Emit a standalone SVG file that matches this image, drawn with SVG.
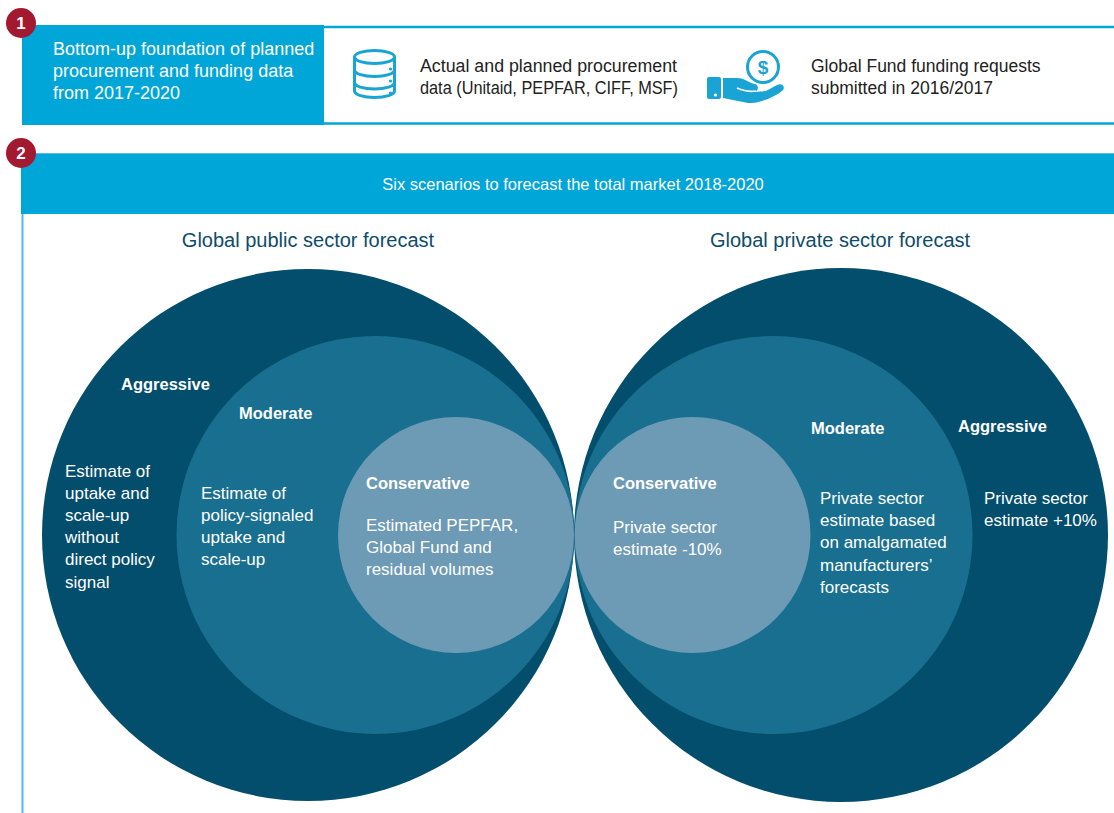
<svg xmlns="http://www.w3.org/2000/svg" width="1114" height="813" viewBox="0 0 1114 813">
<style>
text{font-family:"Liberation Sans",Arial,sans-serif}
.w{fill:#ffffff;font-size:17px}
.wb{fill:#ffffff;font-size:16.5px;font-weight:bold}
.d{fill:#222222;font-size:17.5px}
.ttl{fill:#0E4C6B;font-size:20px}
.badge{fill:#A3192F}
.bn{fill:#ffffff;font-size:17px;font-weight:bold}
.ic{fill:none;stroke:#1AA3D5;stroke-width:3}
.outer{fill:#034D6D}
.mid{fill:#186F8F}
.inner{fill:#6D9AB4}
</style>
<rect width="1114" height="813" fill="#ffffff"/>

<g id="section1">
  <rect x="22" y="25" width="302" height="100" fill="#00A6D8"/>
  <line x1="323" y1="27" x2="1114" y2="27" stroke="#00A6D8" stroke-width="2.5"/>
  <line x1="323" y1="123.5" x2="1114" y2="123.5" stroke="#00A6D8" stroke-width="2.5"/>
  <text class="w" style="font-size:18px"><tspan x="53" y="55">Bottom-up foundation of planned</tspan><tspan x="53" y="77">procurement and funding data</tspan><tspan x="53" y="99">from 2017-2020</tspan></text>
  <circle class="badge" cx="21" cy="23" r="15"/>
  <text class="bn" x="21" y="29" text-anchor="middle">1</text>
</g>

<g id="data-icon">
  <ellipse class="ic" cx="374.5" cy="57" rx="20" ry="6.5"/>
  <path class="ic" d="M354.5 57 V91 A20 6.5 0 0 0 394.5 91 V57"/>
  <path class="ic" d="M354.5 70 A20 6.5 0 0 0 394.5 70 M354.5 82.5 A20 6.5 0 0 0 394.5 82.5"/>
  <circle cx="390.5" cy="69" r="1.6" fill="#1AA3D5"/>
  <circle cx="390.5" cy="81" r="1.6" fill="#1AA3D5"/>
  <circle cx="390.5" cy="93" r="1.6" fill="#1AA3D5"/>
  <text class="d" x="420" y="72" textLength="257" lengthAdjust="spacingAndGlyphs">Actual and planned procurement</text>
  <text class="d" x="420" y="94" textLength="258" lengthAdjust="spacingAndGlyphs">data (Unitaid, PEPFAR, CIFF, MSF)</text>
</g>

<g id="funding-icon">
  <circle cx="763" cy="67" r="15.5" fill="none" stroke="#1AA3D5" stroke-width="3"/>
  <text x="763" y="74" text-anchor="middle" style="font-size:19px;font-weight:bold;fill:#1AA3D5">$</text>
  <rect x="707" y="77" width="14" height="22" rx="2" fill="#1AA3D5"/>
  <circle cx="715.5" cy="95" r="1.6" fill="#ffffff"/>
  <path d="M723 78 H737 C745 78 749 83 755 84 C759 85 759 91 754 92 L766 91 L777 85 C783 82 786 88 782 91 C774 97 762 103 748 103 L723 98 Z" fill="#1AA3D5"/>
  <path d="M737 88 C744 91 750 92 756 91" fill="none" stroke="#ffffff" stroke-width="1.6"/>
  <text class="d" x="811" y="72">Global Fund funding requests</text>
  <text class="d" x="811" y="94">submitted in 2016/2017</text>
</g>

<g id="section2">
  <rect x="22.5" y="154" width="1100" height="680" fill="none" stroke="#4FBDE3" stroke-width="2"/>
  <rect x="21" y="154" width="1093" height="60" fill="#00A6D8"/>
  <text x="573" y="190" text-anchor="middle" style="fill:#ffffff;font-size:16.5px">Six scenarios to forecast the total market 2018-2020</text>
  <circle class="badge" cx="21" cy="153" r="15"/>
  <text class="bn" x="21" y="159" text-anchor="middle">2</text>
</g>

<g id="public-forecast">
  <text class="ttl" x="308" y="247" text-anchor="middle">Global public sector forecast</text>
  <circle class="outer" cx="308" cy="535" r="266"/>
  <circle class="mid" cx="375.5" cy="535" r="199"/>
  <circle class="inner" cx="456" cy="535" r="118"/>
  <text class="wb" x="121" y="390">Aggressive</text>
  <text class="wb" x="239" y="419">Moderate</text>
  <text class="wb" x="366" y="489">Conservative</text>
  <text class="w"><tspan x="65" y="477">Estimate of</tspan><tspan x="65" y="499">uptake and</tspan><tspan x="65" y="521">scale-up</tspan><tspan x="65" y="543">without</tspan><tspan x="65" y="565">direct policy</tspan><tspan x="65" y="588">signal</tspan></text>
  <text class="w"><tspan x="201" y="499">Estimate of</tspan><tspan x="201" y="521">policy-signaled</tspan><tspan x="201" y="543">uptake and</tspan><tspan x="201" y="565">scale-up</tspan></text>
  <text class="w"><tspan x="366" y="531">Estimated PEPFAR,</tspan><tspan x="366" y="553">Global Fund and</tspan><tspan x="366" y="575">residual volumes</tspan></text>
</g>

<g id="private-forecast">
  <text class="ttl" x="840" y="247" text-anchor="middle">Global private sector forecast</text>
  <circle class="outer" cx="841" cy="535" r="267"/>
  <circle class="mid" cx="773.5" cy="535" r="199"/>
  <circle class="inner" cx="692.5" cy="535" r="118"/>
  <text class="wb" x="613" y="489">Conservative</text>
  <text class="wb" x="811" y="434">Moderate</text>
  <text class="wb" x="958" y="432">Aggressive</text>
  <text class="w"><tspan x="613" y="533">Private sector</tspan><tspan x="613" y="555">estimate -10%</tspan></text>
  <text class="w"><tspan x="820" y="504">Private sector</tspan><tspan x="820" y="526">estimate based</tspan><tspan x="820" y="548">on amalgamated</tspan><tspan x="820" y="571">manufacturers’</tspan><tspan x="820" y="593">forecasts</tspan></text>
  <text class="w"><tspan x="984" y="504">Private sector</tspan><tspan x="984" y="526">estimate +10%</tspan></text>
</g>
</svg>
